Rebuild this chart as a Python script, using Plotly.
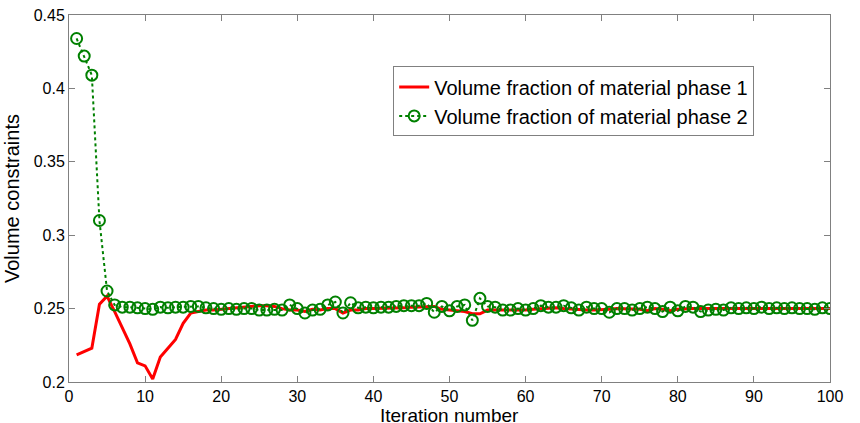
import plotly.graph_objects as go

iterations = list(range(1, 101))

phase1 = [0.2185, 0.221, 0.223, 0.253, 0.2585, 0.248, 0.237, 0.226, 0.213, 0.211,
          0.202, 0.217, 0.223, 0.229, 0.240, 0.247, 0.248, 0.249, 0.249, 0.2495,
          0.250, 0.251, 0.251, 0.2515, 0.252, 0.252, 0.2515, 0.250, 0.249, 0.249,
          0.248, 0.2495, 0.249, 0.250, 0.250, 0.247, 0.249, 0.249, 0.250, 0.250,
          0.250, 0.250, 0.250, 0.2505, 0.251, 0.251, 0.251, 0.2515, 0.2495, 0.249,
          0.2485, 0.248, 0.2465, 0.2465, 0.249, 0.249, 0.2485, 0.2485, 0.249, 0.249,
          0.2495, 0.250, 0.2505, 0.2505, 0.250, 0.2495, 0.249, 0.249, 0.249, 0.249,
          0.2495, 0.250, 0.250, 0.250, 0.2495, 0.2485, 0.250, 0.2495, 0.2485, 0.2495,
          0.250, 0.250, 0.250, 0.250, 0.250, 0.250, 0.250, 0.250, 0.250, 0.250,
          0.250, 0.250, 0.250, 0.250, 0.250, 0.250, 0.250, 0.250, 0.250, 0.250]

phase2 = [0.434, 0.422, 0.409, 0.310, 0.262, 0.2525, 0.251, 0.251, 0.2505, 0.250,
          0.2495, 0.251, 0.2505, 0.251, 0.251, 0.2515, 0.2515, 0.2505, 0.250, 0.2495,
          0.250, 0.2495, 0.250, 0.250, 0.249, 0.249, 0.2495, 0.249, 0.2525, 0.250,
          0.247, 0.249, 0.2495, 0.2525, 0.2545, 0.247, 0.254, 0.2505, 0.251, 0.2505,
          0.251, 0.251, 0.2515, 0.252, 0.252, 0.252, 0.2535, 0.2475, 0.2515, 0.2485,
          0.2515, 0.2525, 0.242, 0.257, 0.2515, 0.251, 0.249, 0.249, 0.250, 0.249,
          0.250, 0.252, 0.251, 0.251, 0.252, 0.2505, 0.249, 0.251, 0.250, 0.250,
          0.2475, 0.250, 0.250, 0.249, 0.250, 0.251, 0.250, 0.248, 0.251, 0.2485,
          0.2515, 0.251, 0.248, 0.249, 0.2495, 0.249, 0.2505, 0.250, 0.2505, 0.250,
          0.251, 0.250, 0.2505, 0.250, 0.2505, 0.250, 0.250, 0.2495, 0.2505, 0.250]

xticks = list(range(0, 101, 10))
yticks = [0.2, 0.25, 0.3, 0.35, 0.4, 0.45]
ylabels = ["0.2", "0.25", "0.3", "0.35", "0.4", "0.45"]

fig = go.Figure()
fig.add_trace(go.Scatter(
    x=iterations, y=phase1, mode="lines",
    name="Volume fraction of material phase 1",
    line=dict(color="#ff0000", width=3),
))
fig.add_trace(go.Scatter(
    x=iterations, y=phase2, mode="lines+markers",
    name="Volume fraction of material phase 2",
    line=dict(color="#008000", width=2, dash="dot"),
    marker=dict(symbol="circle-open", size=11, color="#008000",
                line=dict(width=2, color="#008000")),
))

axis_common = dict(
    showline=True, linecolor="#808080", linewidth=1, mirror="allticks",
    ticks="inside", ticklen=6, tickcolor="#808080", showgrid=False, zeroline=False,
    automargin=False,
    tickfont=dict(family="Arial, Liberation Sans, sans-serif", size=16, color="#000"),
)

fig.update_layout(
    width=860, height=423,
    margin=dict(l=69, r=30, t=15, b=41),
    plot_bgcolor="white", paper_bgcolor="white",
    font=dict(family="Arial, Liberation Sans, sans-serif", color="#000"),
    xaxis=dict(range=[0, 100], tickvals=xticks, **axis_common),
    yaxis=dict(range=[0.2, 0.45], tickvals=yticks, ticktext=ylabels,
               title=dict(text="Volume constraints", font=dict(size=20), standoff=8),
               **axis_common),
    legend=dict(x=0.426, y=0.86, xanchor="left", yanchor="top",
                bgcolor="white", bordercolor="#808080", borderwidth=1,
                font=dict(size=20), tracegroupgap=0),
    showlegend=True,
    annotations=[dict(text="Iteration number", xref="paper", yref="paper",
                      x=0.5, y=0, yshift=-45, xanchor="center", yanchor="bottom",
                      showarrow=False, borderpad=0,
                      font=dict(size=19, color="#000"))],
)

fig.write_html("out.html")
